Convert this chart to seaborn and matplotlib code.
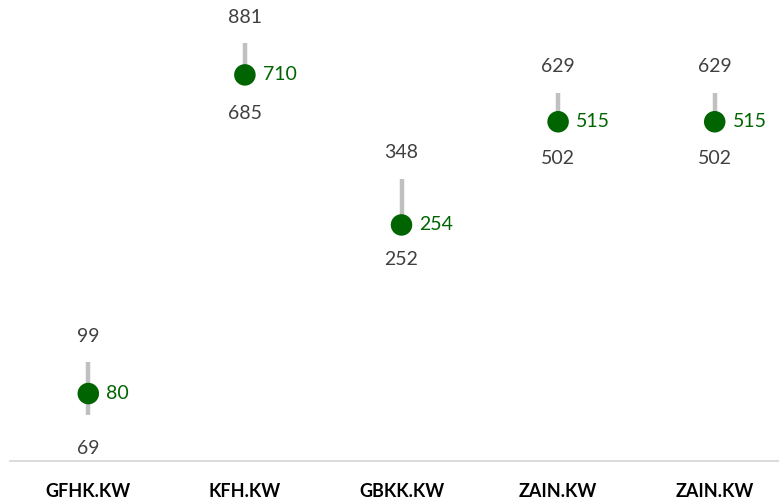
import numpy as np
import pandas as pd
import matplotlib
matplotlib.use("Agg")
import matplotlib.pyplot as plt
import seaborn as sns

tickers = ["GFHK.KW", "KFH.KW", "GBKK.KW", "ZAIN.KW", "ZAIN.KW "]
high = [99, 881, 348, 629, 629]
low = [69, 685, 252, 502, 502]
current = [80, 710, 254, 515, 515]

df = pd.DataFrame({"ticker": tickers, "high": high, "low": low, "current": current})

sns.set_style("white")
plt.rcParams["font.family"] = ["Lato", "DejaVu Sans"]

fig = plt.figure(figsize=(7.79, 5), dpi=100)
ax = fig.add_axes([10 / 779, 39 / 500, 783 / 779, 461 / 500])

xs = np.arange(len(df))
ax.vlines(xs, df["low"], df["high"], color="#c0c0c0", lw=3.2, zorder=1)
sns.scatterplot(data=df, x="ticker", y="current", ax=ax, color="#006400",
                s=240, edgecolor="none", zorder=2, legend=False)

ax.set_yscale("log")
ax.set_ylim(50.4, 1186)
ax.set_xlim(-0.5, len(df) - 0.5)

for i, row in df.iterrows():
    ax.annotate(str(row["high"]), (i, row["high"]), xytext=(0, 19), textcoords="offset points",
                ha="center", va="center", fontsize=14, color="#404040")
    ax.annotate(str(row["low"]), (i, row["low"]), xytext=(0, -24), textcoords="offset points",
                ha="center", va="center", fontsize=14, color="#404040")
    ax.annotate(str(row["current"]), (i, row["current"]), xytext=(13, 0), textcoords="offset points",
                ha="left", va="center", fontsize=14, color="#006400")

ax.set_yticks([])
ax.minorticks_off()
ax.set_yticks([], minor=True)
ax.set_xticks(xs)
ax.set_xticklabels([t.strip() for t in tickers], fontsize=13, fontweight="bold", color="#000000")
ax.tick_params(axis="x", length=0, pad=16)
ax.set_xlabel("")
ax.set_ylabel("")
for s in ["top", "left", "right"]:
    ax.spines[s].set_visible(False)
ax.spines["bottom"].set_color("#d9d9d9")
ax.spines["bottom"].set_linewidth(1.3)

fig.savefig("out.png", dpi=100)
